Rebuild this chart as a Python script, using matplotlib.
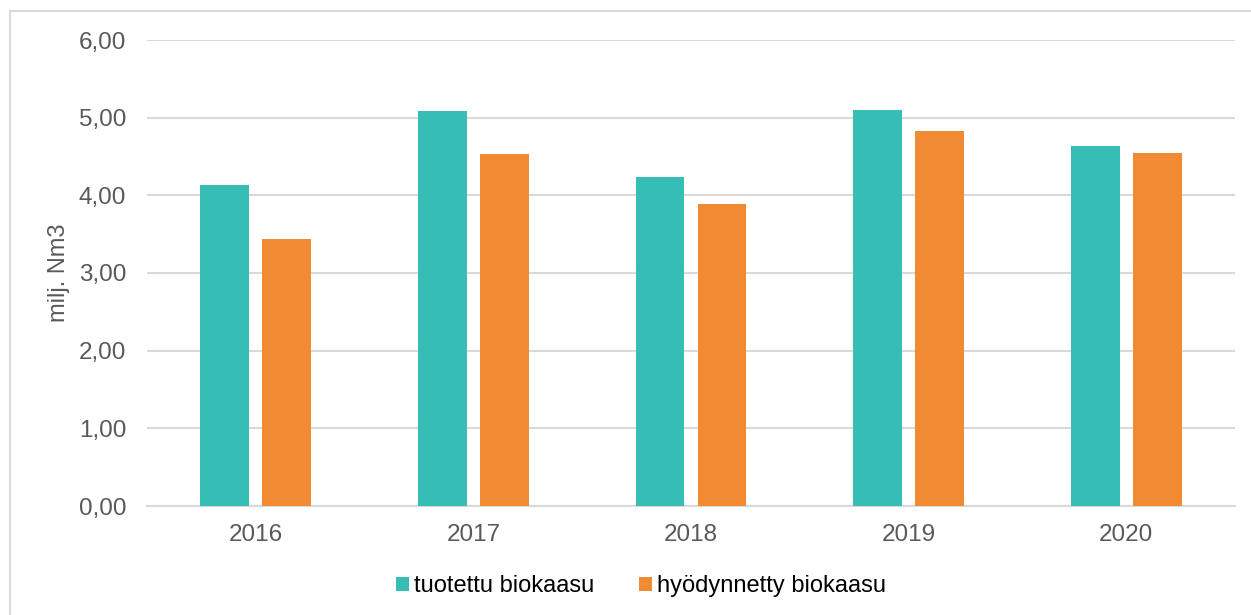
import matplotlib
matplotlib.use('Agg')
import matplotlib.pyplot as plt
from matplotlib.patches import Rectangle
import numpy as np

plt.rcParams['font.family'] = ['Liberation Sans', 'DejaVu Sans']

years = ['2016', '2017', '2018', '2019', '2020']
tuotettu = [4.13, 5.08, 4.24, 5.10, 4.63]
hyodynnetty = [3.44, 4.53, 3.89, 4.83, 4.55]
series_names = ['tuotettu biokaasu', 'hyödynnetty biokaasu']

teal = '#35BDB6'
orange = '#F18B33'
grid_c = '#D9D9D9'
text_c = '#595959'

fig = plt.figure(figsize=(12.51, 6.15), dpi=100)
ax = fig.add_axes([147 / 1251, 1 - 506 / 615, (1235 - 147) / 1251, (506 - 40) / 615])

x = np.arange(len(years))
w = 0.225
gap = 0.06
ax.bar(x - (w + gap) / 2, tuotettu, w, color=teal, label=series_names[0], zorder=3)
ax.bar(x + (w + gap) / 2, hyodynnetty, w, color=orange, label=series_names[1], zorder=3)

ax.set_xlim(-0.5, len(years) - 0.5)
ax.set_ylim(0, 6)
ax.set_yticks(np.arange(0, 7, 1))
ax.set_yticklabels([f'{v:.2f}'.replace('.', ',') for v in np.arange(0, 7, 1)])
ax.set_xticks(x)
ax.set_xticklabels(years)
ax.tick_params(axis='both', length=0, labelsize=17.5, colors=text_c)
ax.tick_params(axis='y', pad=15)
ax.tick_params(axis='x', pad=13)
ax.yaxis.grid(True, color=grid_c, linewidth=1.5, zorder=0)
for s in ['top', 'right', 'left']:
    ax.spines[s].set_visible(False)
ax.spines['bottom'].set_color(grid_c)
ax.spines['bottom'].set_linewidth(1.5)

ax.set_ylabel('milj. Nm3', fontsize=17, color=text_c, labelpad=0)
ax.yaxis.set_label_coords(-(147 - 70) / 1088, 0.5)

fig.legend(loc='center', bbox_to_anchor=(641 / 1251, 1 - 586 / 615), ncol=2,
           frameon=False, fontsize=17, handlelength=0.55, handleheight=0.55,
           handletextpad=0.2, columnspacing=1.9)

fig.patches.append(Rectangle((10 / 1251, -0.1), 1.2, (615 - 11) / 615 + 0.1,
                             transform=fig.transFigure, fill=False,
                             edgecolor=grid_c, linewidth=1.5))

fig.savefig('out.png', dpi=100)
